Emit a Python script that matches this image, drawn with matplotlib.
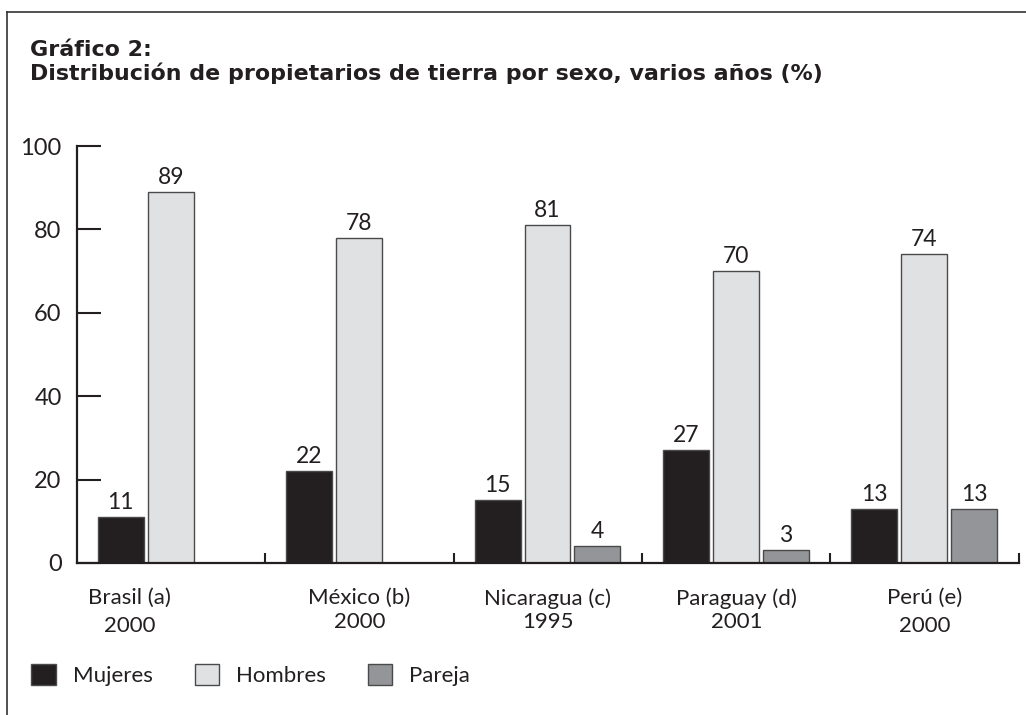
import matplotlib
matplotlib.use('Agg')
import matplotlib.pyplot as plt
from matplotlib.patches import Patch
from matplotlib.lines import Line2D
import numpy as np

plt.rcParams['font.family'] = ['Lato', 'DejaVu Sans']

# data
paises = ['Brasil (a)', 'México (b)', 'Nicaragua (c)', 'Paraguay (d)', 'Perú (e)']
anios = ['2000', '2000', '1995', '2001', '2000']
mujeres = [11, 22, 15, 27, 13]
hombres = [89, 78, 81, 70, 74]
pareja = [None, None, 4, 3, 13]
series = ['Mujeres', 'Hombres', 'Pareja']
colores = ['#231f20', '#e0e1e3', '#939598']

texto = '#231f20'

fig = plt.figure(figsize=(10.26, 7.15), dpi=100)
ax = fig.add_axes([0.075, 0.2126, 0.918, 0.5832])

ancho = 0.244
paso = 0.265
x = np.arange(len(paises))
for i, (vals, col) in enumerate(zip([mujeres, hombres, pareja], colores)):
    for j, v in enumerate(vals):
        if v is None:
            continue
        xc = x[j] + 0.233 + i * paso
        ax.bar(xc, v, width=ancho, color=col, edgecolor='#4a4a4a', linewidth=1.0, zorder=2)
        ax.annotate(str(v), (xc, v), xytext=(0, 3), textcoords='offset points',
                    ha='center', va='bottom', fontsize=16.5, color=texto)

ax.set_xlim(0, len(paises))
ax.set_ylim(0, 100)
ax.set_yticks([0, 20, 40, 60, 80, 100])
ax.set_xticks(np.arange(1, len(paises) + 1))
ax.set_xticklabels([])
ax.tick_params(axis='y', direction='in', length=17, width=1.5, pad=11,
               labelsize=17, colors=texto)
ax.tick_params(axis='x', direction='in', length=7.5, width=1.5, colors=texto)
for s in ['top', 'right']:
    ax.spines[s].set_visible(False)
for s in ['left', 'bottom']:
    ax.spines[s].set_linewidth(1.6)
    ax.spines[s].set_color(texto)

# category labels (two lines)
desplaz = [-0.22, 0.0, 0.0, 0.0, 0.0]
linea2 = [-38, -35.5, -35.5, -35.5, -38]
for j in range(len(paises)):
    xc = x[j] + 0.5 + desplaz[j]
    ax.annotate(paises[j], (xc, 0), xytext=(0, -18), textcoords='offset points',
                ha='center', va='top', fontsize=16, color=texto, annotation_clip=False)
    ax.annotate(anios[j], (xc, 0), xytext=(0, linea2[j]), textcoords='offset points',
                ha='center', va='top', fontsize=16, color=texto, annotation_clip=False)

# title
fig.text(0.029, 1 - 40 / 715, 'Gráfico 2:\nDistribución de propietarios de tierra por sexo, varios años (%)',
         ha='left', va='top', fontsize=15.9, fontweight='bold', color=texto, linespacing=1.12,
         family='DejaVu Sans')

# legend
handles = [Patch(facecolor=c, edgecolor='#4a4a4a', linewidth=1.0) for c in colores]
fig.legend(handles, series, loc='center left', bbox_to_anchor=(0.022, 1 - 675 / 715),
           ncol=3, frameon=False, fontsize=16, handlelength=1.1, handleheight=1.1,
           handletextpad=0.75, columnspacing=1.9, labelcolor=texto, borderaxespad=0)

# frame lines (top and left)
fig.add_artist(Line2D([7 / 1026, 1], [1 - 12 / 715, 1 - 12 / 715], transform=fig.transFigure,
                      color='#333333', linewidth=1.2))
fig.add_artist(Line2D([7 / 1026, 7 / 1026], [0, 1 - 12 / 715], transform=fig.transFigure,
                      color='#333333', linewidth=1.2))

fig.savefig('out.png', dpi=100)
